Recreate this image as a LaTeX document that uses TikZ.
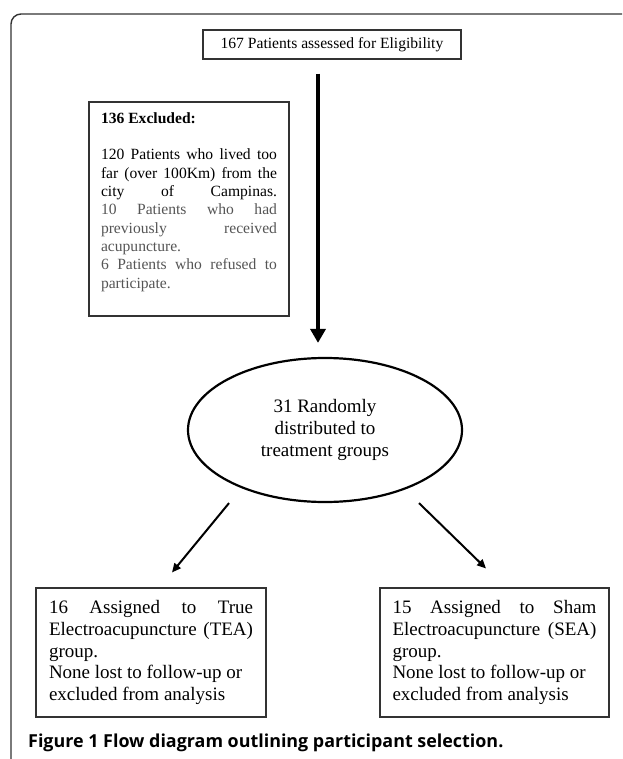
\documentclass[tikz,border=0pt]{standalone}
\usepackage{fontspec}
\setmainfont{Liberation Serif}
\newfontfamily\capfont{Open Sans}
\usepackage{xcolor}
\usetikzlibrary{shapes.geometric}
\usetikzlibrary{arrows.meta}
\usetikzlibrary{positioning}
\definecolor{greytext}{HTML}{555555}
\definecolor{boxline}{HTML}{333333}
\hyphenpenalty=10000
\exhyphenpenalty=10000
\tolerance=10000
\hbadness=10000

\begin{document}
\begin{tikzpicture}[x=1pt,y=-1pt,
	box/.style={draw=boxline,line width=1.1pt,inner sep=0pt},
	small/.style={font=\fontsize{15.6}{18.3}\selectfont},
	big/.style={font=\fontsize{19}{21.7}\selectfont},
	thin arrow/.style={line width=2pt,-{Triangle[width=8pt,length=9pt]}}]
	\useasboundingbox (0,0) rectangle (622,759);
	% page frame
	\draw[boxline,line width=1.4pt] (622,14) -- (21,14) arc (270:180:10) -- (11,759);
	\node[box,small,minimum width=258pt,minimum height=29pt] (0) at (332,44.5) {167 Patients assessed for Eligibility};
	\node[box,small,minimum width=200pt,minimum height=214pt] (1) at (189,209) {\parbox[c][193pt][t]{176pt}{%
		\textbf{136 Excluded:}\par\vspace{18.3pt}
		120 Patients who lived too\linebreak far (over 100Km) from the\linebreak city of Campinas.\linebreak
		{\color{greytext}10 Patients who had\linebreak previously received\linebreak acupuncture.\par
		6 Patients who refused to\linebreak participate.}}};
	\node[draw,ellipse,line width=2.2pt,big,align=center,minimum width=274pt,minimum height=144pt,inner sep=0pt] (2) at (325,430) {31 Randomly\\distributed to\\treatment groups};
	\node[box,big,minimum width=230pt,minimum height=129pt,text width=204pt,align=justify] (3) at (151,652.5) {16 Assigned to True\linebreak Electroacupuncture (TEA)\linebreak group.\\None lost to follow-up or\\excluded from analysis};
	\node[box,big,minimum width=229pt,minimum height=129pt,text width=204pt,align=justify] (4) at (494.5,652.5) {15 Assigned to Sham\linebreak Electroacupuncture (SEA)\linebreak group.\\None lost to follow-up or\\excluded from analysis};
	\node[anchor=base west,inner sep=0pt,font=\capfont\bfseries\fontsize{17.9}{20}\selectfont] (5) at (28,747) {Figure 1 Flow diagram outlining participant selection.};
	\draw [line width=4.5pt,-{Triangle[width=15pt,length=14pt]}] ([xshift=-14pt,yshift=-14pt]0.south) to ([xshift=-7pt,yshift=14pt]2.north);
	\draw [thin arrow] ([xshift=-96pt]2.south) to ([xshift=21pt,yshift=15pt]3.north);
	\draw [thin arrow] ([xshift=94pt]2.south) to ([xshift=-8.5pt,yshift=19pt]4.north);
\end{tikzpicture}
\end{document}
